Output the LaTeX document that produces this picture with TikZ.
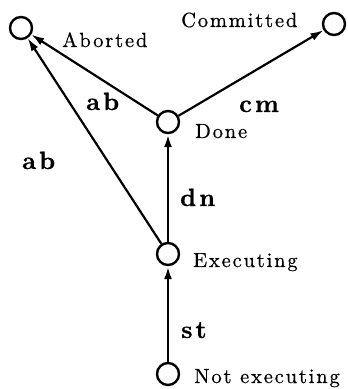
\documentclass[tikz,border=0pt]{standalone}
\usepackage{fontspec}
\usetikzlibrary{arrows.meta}
\newfontfamily\lab{lmroman10-regular}[Extension=.otf, LetterSpace=9, FakeBold=0.6]
\newfontfamily\blab{lmroman10-bold}[Extension=.otf, LetterSpace=12, FakeBold=0.8]
\begin{document}
\begin{tikzpicture}[x=1pt,y=1pt,
  state/.style={circle, draw, line width=2.4pt, minimum size=22pt, inner sep=0pt},
  stlabel/.style={anchor=base west, inner sep=0pt, font=\lab\fontsize{20.5}{23}\selectfont},
  evlabel/.style={anchor=base west, inner sep=0pt, font=\blab\fontsize{25}{28}\selectfont},
  tr/.style={line width=2.8pt, -{Latex[length=13pt,width=8pt]}},
  trd/.style={line width=2.2pt, -{Latex[length=13pt,width=8pt]}}]
\useasboundingbox (0,0) rectangle (348,389);
\node[state] (a) at (21,361) {};
\node[state] (c) at (334,365) {};
\node[state] (d) at (168,267) {};
\node[state] (e) at (168,135) {};
\node[state] (n) at (168,15) {};
\node[stlabel] (la) at (62,342) {Aborted};
\node[stlabel] (lc) at (181,362) {Committed};
\node[stlabel] (ld) at (195,251) {Done};
\node[stlabel] (le) at (193,122) {Executing};
\node[stlabel] (ln) at (194,6) {Not executing};
\draw[trd] (d) -- (a);
\draw[trd] (d) -- (c);
\draw[trd] (e) -- (a);
\draw[tr] (e) -- (d);
\draw[tr] (n) -- (e);
\node[evlabel] (l1) at (86,279) {ab};
\node[evlabel] (l2) at (22,220) {ab};
\node[evlabel] (l3) at (239,277) {cm};
\node[evlabel] (l4) at (180,183) {dn};
\node[evlabel] (l5) at (181,51) {st};
\end{tikzpicture}
\end{document}
